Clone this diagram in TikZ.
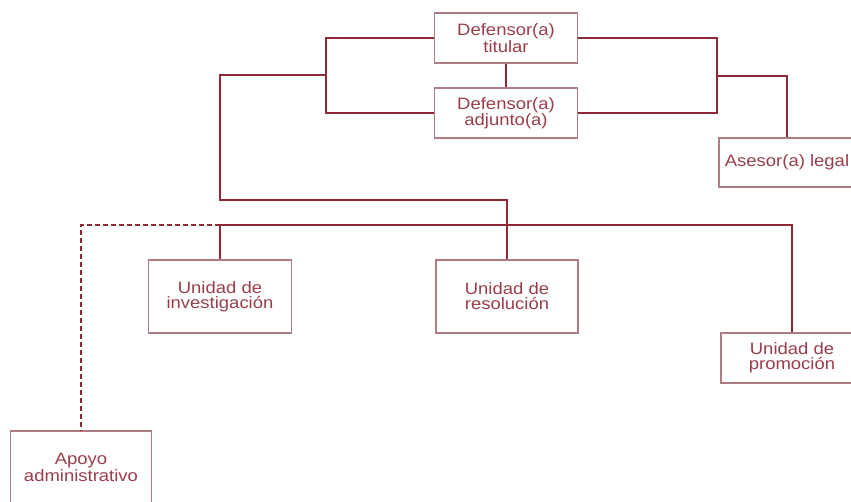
\documentclass[tikz,border=0pt]{standalone}
\usepackage{fontspec}
\newfontfamily\boxfont[FakeStretch=1.12]{Liberation Sans}
\definecolor{lnred}{HTML}{8E2A36}
\definecolor{bxred}{HTML}{B07C84}
\definecolor{txred}{HTML}{9A3E4C}
\tikzset{
  orgbox/.style={draw=bxred, line width=1.3pt, fill=white, align=center, inner sep=0pt,
    text=txred, font=\boxfont\fontsize{16.5}{15}\selectfont},
  conn/.style={draw=lnred, line width=1.7pt},
  dashconn/.style={draw=lnred, line width=1.7pt, dashed, dash pattern=on 5pt off 3pt}
}
\begin{document}
\begin{tikzpicture}[x=1pt,y=-1pt]
\useasboundingbox (0,0) rectangle (851,502);
\clip (0,0) rectangle (851,502);
\fill[white] (0,0) rectangle (851,502);
% nodes
\node[orgbox, minimum width=143pt, minimum height=50pt] (tit) at (506,38) {Defensor(a)\\titular};
\node[orgbox, minimum width=143pt, minimum height=50pt] (adj) at (506,113) {Defensor(a)\\adjunto(a)};
\node[orgbox, minimum width=136pt, minimum height=49pt] (ase) at (787,162.5) {Asesor(a) legal};
\node[orgbox, minimum width=143pt, minimum height=73pt] (inv) at (220,296.5) {Unidad de\\investigación};
\node[orgbox, minimum width=142pt, minimum height=73pt] (res) at (507,296.5) {Unidad de\\resolución};
\node[orgbox, minimum width=142pt, minimum height=50pt] (pro) at (792,358) {Unidad de\\promoción};
\node[orgbox, minimum width=141pt, minimum height=73pt] (apo) at (81,467.5) {Apoyo\\administrativo};
% coordinates
\coordinate (lb) at (326,75);
\coordinate (rb) at (717,76);
\coordinate (busL) at (220,225);
\coordinate (busR) at (792,225);
\coordinate (dashC) at (81,225);
% connectors
\draw[conn] (tit.south) -- (adj.north);
\draw[conn] (tit.west) -| (lb) |- (adj.west);
\draw[conn] (tit.east) -| (rb) |- (adj.east);
\draw[conn] (rb) -| (ase.north);
\draw[conn] (lb) -- (220,75) -- (220,200) -| (res.north);
\draw[conn] (busL) -- (busR) -- (pro.north);
\draw[conn] (busL) -- (inv.north);
\draw[dashconn] (busL) -- (dashC) -- (apo.north);
\end{tikzpicture}
\end{document}
